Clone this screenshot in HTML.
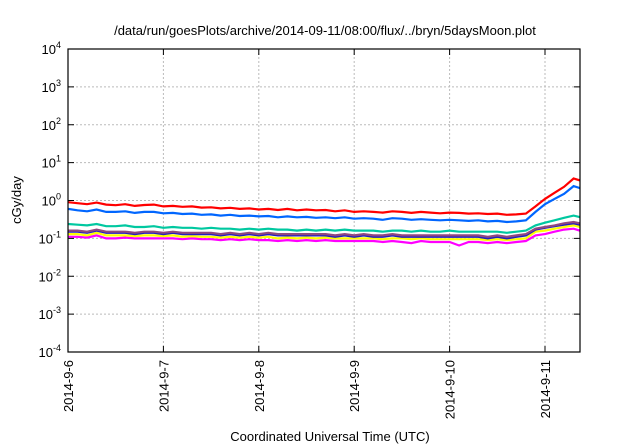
<!DOCTYPE html>
<html><head><meta charset="utf-8"><style>
body{margin:0;background:#fff;}
svg{display:block;font-family:"Liberation Sans",sans-serif;}
</style></head><body>
<svg id="chart" width="640" height="448">
<text x="325" y="35" font-size="13" text-anchor="middle">/data/run/goesPlots/archive/2014-09-11/08:00/flux/../bryn/5daysMoon.plot</text>
<g id="grid"></g>
<g id="series"></g>
<rect x="68" y="49" width="512" height="303" fill="none" stroke="#000" stroke-width="1.2"/>
<g id="axes"></g>
<text x="21" y="200" font-size="13" text-anchor="middle" transform="rotate(-90 21 200)">cGy/day</text>
<text x="330" y="441" font-size="13" text-anchor="middle">Coordinated Universal Time (UTC)</text>
</svg>
<script>
const dayLabels=["2014-9-6","2014-9-7","2014-9-8","2014-9-9","2014-9-10","2014-9-11"];
const yExps=[-4,-3,-2,-1,0,1,2,3,4];
const step=0.1;
const red=[0.9,0.85,0.8,0.88,0.78,0.75,0.8,0.72,0.76,0.78,0.7,0.72,0.68,0.7,0.65,0.66,0.62,0.64,0.6,0.62,0.58,0.6,0.56,0.6,0.55,0.58,0.55,0.56,0.52,0.55,0.5,0.52,0.5,0.48,0.52,0.5,0.47,0.5,0.48,0.46,0.48,0.47,0.45,0.46,0.44,0.45,0.42,0.43,0.45,0.7,1.1,1.6,2.3,3.8,3.2];
const blue=[0.6,0.55,0.52,0.58,0.5,0.5,0.52,0.47,0.5,0.5,0.46,0.47,0.44,0.45,0.42,0.43,0.4,0.42,0.39,0.4,0.38,0.39,0.36,0.38,0.36,0.37,0.35,0.36,0.34,0.36,0.33,0.34,0.33,0.31,0.34,0.33,0.31,0.32,0.31,0.3,0.31,0.3,0.29,0.3,0.28,0.29,0.27,0.28,0.3,0.5,0.8,1.1,1.5,2.4,2.0];
const teal=[0.24,0.23,0.22,0.24,0.21,0.21,0.22,0.2,0.2,0.21,0.19,0.2,0.19,0.19,0.18,0.19,0.18,0.18,0.17,0.18,0.17,0.18,0.17,0.17,0.16,0.17,0.16,0.17,0.16,0.17,0.16,0.16,0.16,0.15,0.16,0.16,0.15,0.16,0.15,0.15,0.16,0.15,0.15,0.15,0.15,0.15,0.14,0.15,0.16,0.22,0.26,0.3,0.35,0.4,0.35];
const purple=[0.16,0.16,0.15,0.17,0.15,0.15,0.15,0.14,0.15,0.15,0.14,0.15,0.14,0.14,0.14,0.14,0.13,0.14,0.13,0.14,0.13,0.14,0.13,0.13,0.13,0.13,0.13,0.13,0.12,0.13,0.12,0.13,0.12,0.12,0.13,0.12,0.12,0.12,0.12,0.12,0.12,0.12,0.12,0.12,0.11,0.12,0.11,0.12,0.13,0.18,0.2,0.22,0.25,0.27,0.24];
const navy=[0.15,0.15,0.14,0.16,0.14,0.14,0.14,0.13,0.14,0.14,0.13,0.14,0.13,0.13,0.13,0.13,0.12,0.13,0.12,0.13,0.12,0.13,0.12,0.12,0.12,0.12,0.12,0.12,0.11,0.12,0.11,0.12,0.11,0.11,0.12,0.11,0.11,0.11,0.11,0.11,0.11,0.11,0.11,0.11,0.1,0.11,0.1,0.11,0.12,0.17,0.19,0.21,0.23,0.25,0.22];
const yellow=[0.13,0.13,0.12,0.14,0.12,0.12,0.12,0.115,0.12,0.12,0.115,0.12,0.11,0.115,0.11,0.11,0.105,0.11,0.105,0.11,0.105,0.11,0.1,0.105,0.1,0.105,0.1,0.105,0.1,0.1,0.1,0.1,0.1,0.095,0.1,0.1,0.095,0.1,0.095,0.095,0.095,0.095,0.095,0.095,0.09,0.095,0.09,0.095,0.1,0.15,0.16,0.18,0.2,0.22,0.19];
const magenta=[0.11,0.11,0.105,0.12,0.1,0.1,0.105,0.1,0.1,0.1,0.1,0.1,0.095,0.1,0.095,0.095,0.09,0.095,0.09,0.095,0.09,0.09,0.085,0.09,0.085,0.09,0.085,0.09,0.085,0.085,0.085,0.085,0.085,0.08,0.085,0.08,0.075,0.085,0.08,0.08,0.08,0.065,0.08,0.08,0.075,0.08,0.075,0.08,0.085,0.12,0.13,0.15,0.17,0.18,0.15];
const seriesList=[["magenta",magenta,"#ff00ff"],["yellow",yellow,"#ffff00"],["navy",navy,"#2020c0"],["purple",purple,"#904880"],["teal",teal,"#00c8a0"],["blue",blue,"#0066ff"],["red",red,"#ff0000"]];
const L=68,R=580,T=49,B=352,dayW=95.4;
const xs=d=>L+d*dayW;
const ys=v=>B-(Math.log10(v)+4)*((B-T)/8);
const NS="http://www.w3.org/2000/svg";
function mk(t,a,p){const e=document.createElementNS(NS,t);for(const k in a)e.setAttribute(k,a[k]);p.appendChild(e);return e;}
const grid=document.getElementById('grid'),axes=document.getElementById('axes'),ser=document.getElementById('series');
yExps.forEach(ex=>{const y=ys(Math.pow(10,ex));
 if(ex>-4&&ex<4){const g=mk('line',{x1:L,x2:R,y1:y,y2:y,stroke:'#bbb','stroke-dasharray':'2,2'},grid);
 }
 const t1=mk('line',{x1:L,x2:L+6,y1:y,y2:y,stroke:'#000'},axes);
 const t2=mk('line',{x1:R-6,x2:R,y1:y,y2:y,stroke:'#000'},axes);
 const tx=mk('text',{x:L-7,y:y+5,'font-size':'13','text-anchor':'end'},axes);
 
 tx.innerHTML='10<tspan dy="-6" font-size="9">'+ex+'</tspan>';});
dayLabels.forEach((lab,i)=>{const x=xs(i);
 if(i>0){const g=mk('line',{x1:x,x2:x,y1:T,y2:B,stroke:'#bbb','stroke-dasharray':'2,2'},grid);}
 const t1=mk('line',{x1:x,x2:x,y1:B-6,y2:B,stroke:'#000'},axes);
 const t2=mk('line',{x1:x,x2:x,y1:T,y2:T+6,stroke:'#000'},axes);
 const tx=mk('text',{x:x+5,y:B+8,'font-size':'13','text-anchor':'end',transform:'rotate(-90 '+(x+5)+' '+(B+8)+')'},axes);
 tx.textContent=lab;});
const cp=mk('clipPath',{id:'clip'},ser);mk('rect',{x:L,y:T,width:R-L,height:B-T},cp);
seriesList.forEach(([n,arr,c])=>{const d=arr.map((v,i)=>(i?'L':'M')+xs(i*step).toFixed(1)+','+ys(v).toFixed(1)).join('');
 const p=mk('path',{d:d,fill:'none',stroke:c,'stroke-width':'2.2','clip-path':'url(#clip)'},ser);
 });
</script>
</body></html>
